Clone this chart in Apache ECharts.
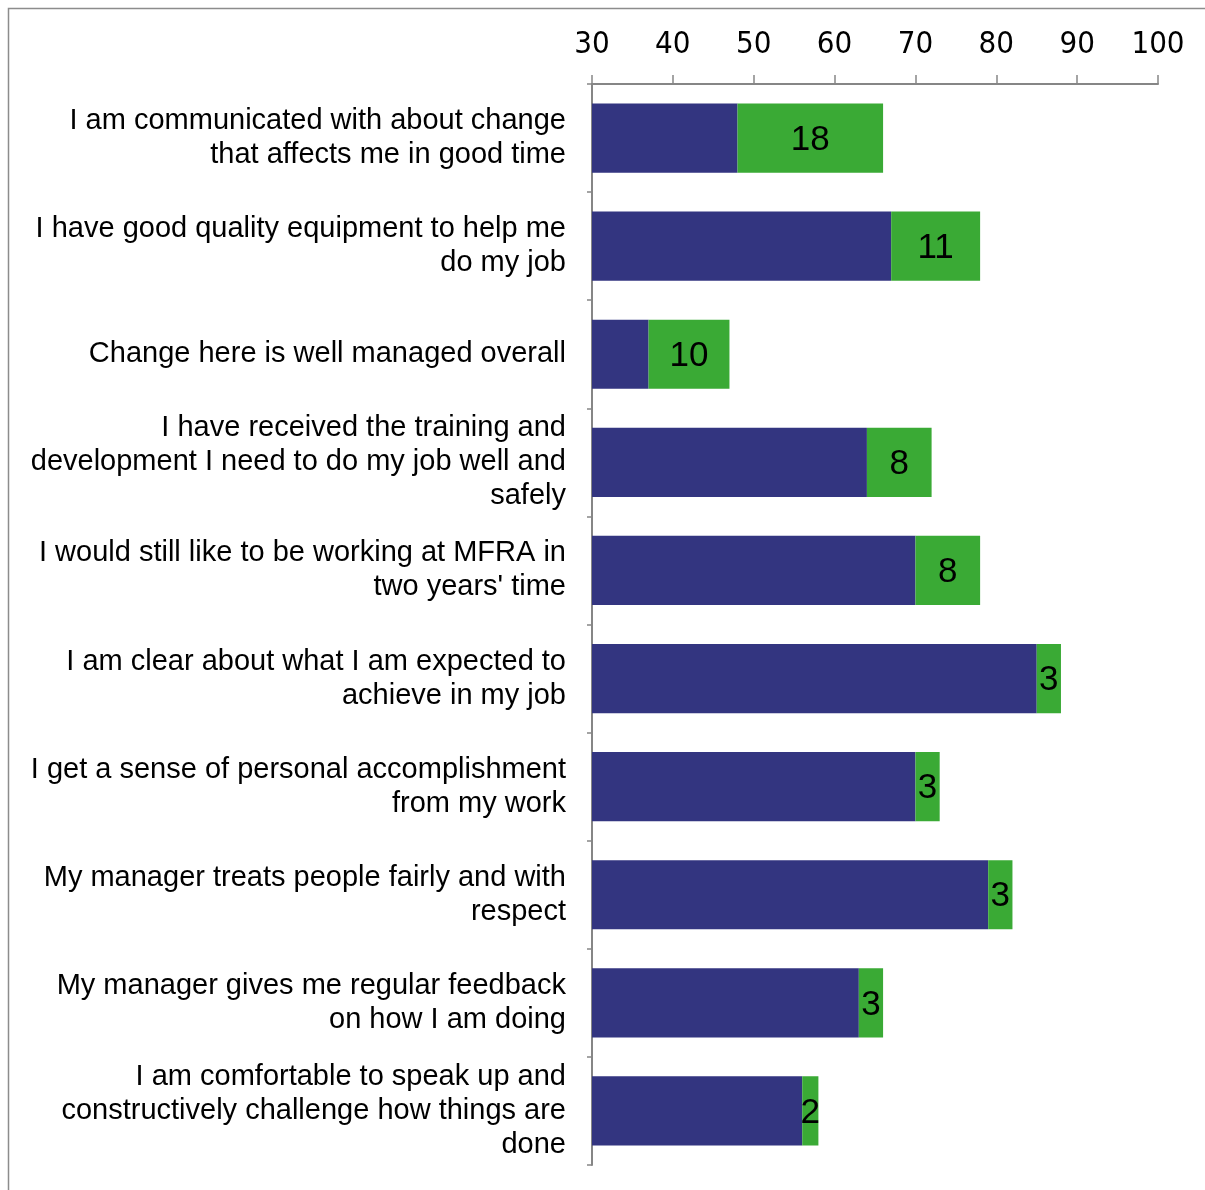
<!DOCTYPE html>
<html>
<head>
<meta charset="utf-8">
<script src="https://cdn.jsdelivr.net/npm/echarts@6/dist/echarts.min.js"></script>
<style>
  html, body { margin: 0; padding: 0; background: #fff; }
  #chart { width: 1205px; height: 1190px; }
</style>
</head>
<body>
<div id="chart"></div>
<script>
// 分类（已手动换行）
var categories = [
  "I am communicated with about change\nthat affects me in good time",
  "I have good quality equipment to help me\ndo my job",
  "Change here is well managed overall",
  "I have received the training and\ndevelopment I need to do my job well and\nsafely",
  "I would still like to be working at MFRA in\ntwo years' time",
  "I am clear about what I am expected to\nachieve in my job",
  "I get a sense of personal accomplishment\nfrom my work",
  "My manager treats people fairly and with\nrespect",
  "My manager gives me regular feedback\non how I am doing",
  "I am comfortable to speak up and\nconstructively challenge how things are\ndone"
];
// 基础值（蓝色）
var baseValues = [48, 67, 37, 64, 70, 85, 70, 79, 63, 56];
// 增量（绿色，带标签）
var changeValues = [18, 11, 10, 8, 8, 3, 3, 3, 3, 2];
var axisMin = 30;
var axisMax = 100;
var axisStep = 10;

var chart = echarts.init(document.getElementById("chart"));
chart.setOption({
  animation: false,
  backgroundColor: "#fff",
  graphic: [{
    type: "rect",
    shape: { x: 8.5, y: 8.5, width: 1400, height: 1400 },
    style: { fill: "none", stroke: "#8c8c8c", lineWidth: 1.5 },
    silent: true
  }],
  grid: { left: 592, right: 47, top: 84, bottom: 25 },
  xAxis: {
    type: "value",
    position: "top",
    min: axisMin,
    max: axisMax,
    interval: axisStep,
    axisLine: { show: true, lineStyle: { color: "#868686", width: 2 } },
    axisTick: { show: true, length: 9, lineStyle: { color: "#868686", width: 1.5 } },
    splitLine: { show: false },
    axisLabel: {
      margin: 24,
      color: "#000",
      fontFamily: "Liberation Sans Narrow, DejaVu Sans Condensed, sans-serif",
      fontSize: 31
    }
  },
  yAxis: {
    type: "category",
    inverse: true,
    data: categories,
    axisLine: { show: true, lineStyle: { color: "#868686", width: 2 } },
    axisTick: { show: true, length: 5, lineStyle: { color: "#868686", width: 1.5 } },
    axisLabel: {
      margin: 26,
      color: "#000",
      fontFamily: "Liberation Sans, Arial, sans-serif",
      fontSize: 29,
      lineHeight: 34,
      padding: [6, 0, 0, 0],
      align: "right"
    }
  },
  series: [
    {
      name: "base",
      type: "bar",
      stack: "total",
      barCategoryGap: "36%",
      data: baseValues,
      itemStyle: { color: "#333580" }
    },
    {
      name: "change",
      type: "bar",
      stack: "total",
      data: changeValues,
      itemStyle: { color: "#3aaa35" },
      label: {
        show: true,
        position: "inside",
        offset: [0, 2],
        color: "#000",
        fontFamily: "Liberation Sans, Arial, sans-serif",
        fontSize: 35
      }
    }
  ]
});
</script>
</body>
</html>
